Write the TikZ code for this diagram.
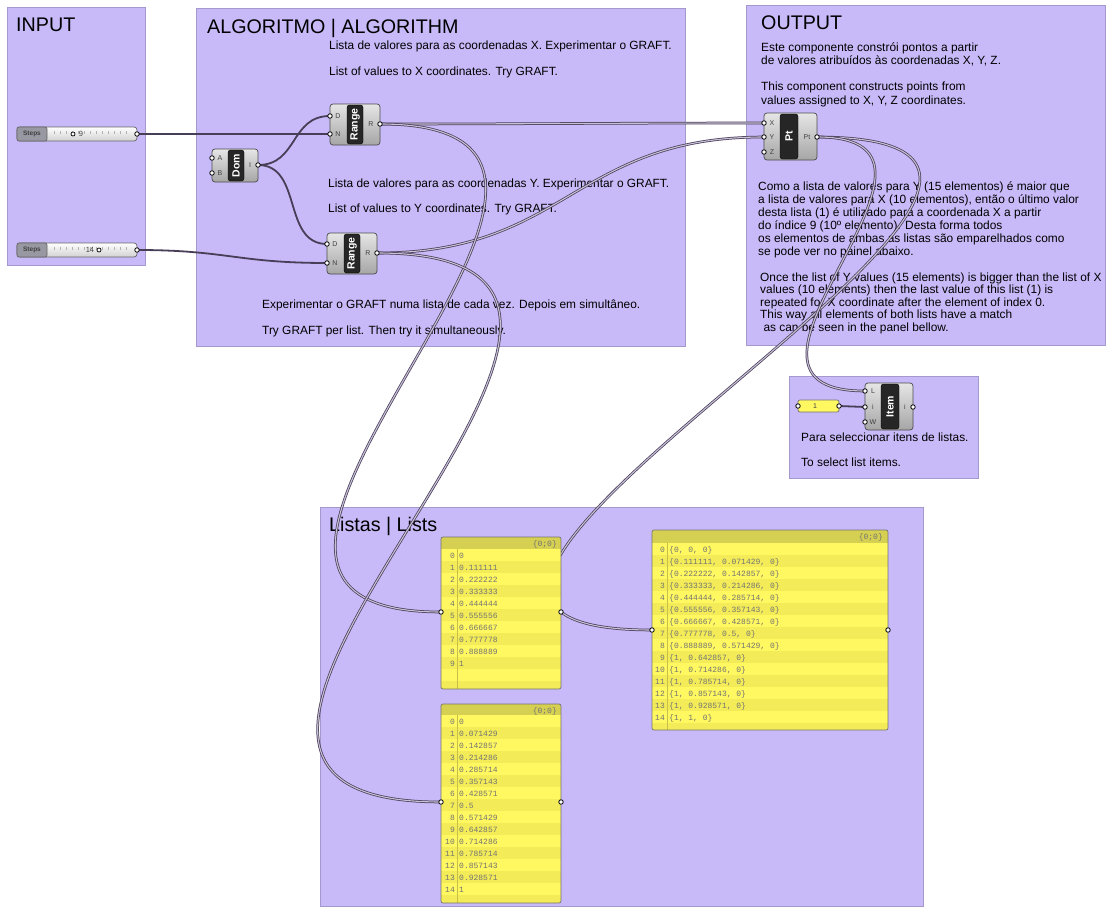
\documentclass[tikz,border=0pt]{standalone}
\usepackage{fontspec}
\setmainfont{Liberation Sans}
\newfontfamily\monof{Liberation Mono}
\definecolor{grpfill}{RGB}{200,186,248}
\definecolor{grpdraw}{RGB}{165,152,205}
\definecolor{wirec}{RGB}{72,62,88}
\definecolor{wirein}{RGB}{200,192,215}
\definecolor{pnlhead}{RGB}{214,208,82}
\definecolor{pnla}{RGB}{255,248,96}
\definecolor{pnlb}{RGB}{243,236,88}
\definecolor{pnlline}{RGB}{200,192,70}
\definecolor{stepsc}{RGB}{152,152,162}
\begin{document}
\begin{tikzpicture}[x=1pt,y=-1pt,
  grp/.style={fill=grpfill, draw=grpdraw, line width=0.8pt},
  comp/.style={draw=black!70, line width=0.7pt, rounded corners=3pt, top color=black!10, bottom color=black!35, inner sep=0},
  strip/.style={fill=black!85, draw=black, rounded corners=2.5pt, inner sep=0, text=white, font=\bfseries\fontsize{10.5}{10.5}\selectfont, rotate=90},
  port/.style={circle, draw=black, fill=white, line width=0.8pt, inner sep=0, minimum size=4.5pt},
  wire/.style={draw=wirec, line width=1.8pt},
  lwire/.style={draw=wirec, line width=0.75pt, double=wirein, double distance=1.1pt},
  txt/.style={anchor=base west, inner sep=0, font=\fontsize{11.9}{12}\selectfont},
  ttl/.style={anchor=base west, inner sep=0, font=\fontsize{19.7}{20}\selectfont},
  plab/.style={inner sep=0, font=\fontsize{7}{7}\selectfont, text=black!75},
  ptxt/.style={inner sep=0, font=\monof\fontsize{8}{8}\selectfont, text=black!55},
  pnlbox/.style={draw=black!55, line width=0.7pt, rounded corners=2pt, inner sep=0},
  sld/.style={draw=black!60, line width=0.7pt, rounded corners=3pt, top color=white, bottom color=black!18, inner sep=0},
  stepsbox/.style={draw=black!60, line width=0.7pt, rounded corners=2pt, fill=stepsc, inner sep=0, font=\bfseries\fontsize{6.5}{6.5}\selectfont, text=black!75}
]
\useasboundingbox (0,0) rectangle (1106,907);
\fill[white] (0,0) rectangle (1106,907);

% ---------- groups
\path[grp] (7,7) rectangle (145,265);
\path[grp] (196,8) rectangle (685,346);
\path[grp] (746,5) rectangle (1105,345);
\path[grp] (789,376) rectangle (978,478);
\path[grp] (320,507) rectangle (923,906);

% ---------- titles
\node[ttl] (tin) at (16,32) {INPUT};
\node[ttl] (talg) at (207,34) {ALGORITMO | ALGORITHM};
\node[ttl] (tout) at (761,30) {OUTPUT};
\node[ttl] (tlis) at (329,531) {Listas | Lists};

% ---------- texts
\node[txt] (a1) at (329,50) {Lista de valores para as coordenadas X. Experimentar o GRAFT.};
\node[txt] (a2) at (329,75) {List of values to X coordinates. Try GRAFT.};
\node[txt] (a3) at (328,187) {Lista de valores para as coordenadas Y. Experimentar o GRAFT.};
\node[txt] (a4) at (328,212) {List of values to Y coordinates. Try GRAFT.};
\node[txt] (a5) at (262,308) {Experimentar o GRAFT numa lista de cada vez. Depois em simult\^aneo.};
\node[txt] (a6) at (262,334) {Try GRAFT per list. Then try it simultaneously.};

\node[txt] (o1) at (761,52) {Este componente constrói pontos a partir};
\node[txt] (o2) at (761,65) {de valores atribuídos às coordenadas X, Y, Z.};
\node[txt] (o3) at (761,91) {This component constructs points from};
\node[txt] (o4) at (761,104) {values assigned to X, Y, Z coordinates.};

\foreach \l [count=\i from 0] in {
  {Como a lista de valores para Y (15 elementos) é maior que},
  {a lista de valores para X (10 elementos), então o último valor},
  {desta lista (1) é utilizado para a coordenada X a partir},
  {do índice 9 (10º elemento). Desta forma todos},
  {os elementos de ambas as listas são emparelhados como},
  {se pode ver no painel abaixo.}}
  \node[txt] (c\i) at (758,190+13*\i) {\l};

\foreach \l [count=\i from 0] in {
  {Once the list of Y values (15 elements) is bigger than the list of X},
  {values (10 elements) then the last value of this list (1) is},
  {repeated for X coordinate after the element of index 0.},
  {This way all elements of both lists have a match},
  {\ as can be seen in the panel bellow.}}
  \node[txt] (e\i) at (760,281+12.5*\i) {\l};

\node[txt] (it1) at (801,441) {Para seleccionar itens de listas.};
\node[txt] (it2) at (801,466) {To select list items.};

% ---------- port coordinates
\coordinate (s1o) at (137,134);
\coordinate (s2o) at (137,250);
\coordinate (domA) at (212,158);
\coordinate (domB) at (212,173);
\coordinate (domI) at (258,165);
\coordinate (rxD) at (330,116);
\coordinate (rxN) at (330,134);
\coordinate (rxR) at (380,124);
\coordinate (ryD) at (327,244);
\coordinate (ryN) at (327,263);
\coordinate (ryR) at (377,253);
\coordinate (ptX) at (764,123);
\coordinate (ptY) at (764,137);
\coordinate (ptZ) at (764,152);
\coordinate (ptO) at (817,137);
\coordinate (itL) at (865,391);
\coordinate (itI) at (865,407);
\coordinate (itW) at (865,422);
\coordinate (itO) at (913,407);
\coordinate (n1i) at (798,406);
\coordinate (n1o) at (839,406);
\coordinate (p1in) at (441,612);
\coordinate (p1out) at (561,612);
\coordinate (p2in) at (441,802);
\coordinate (p2out) at (561,802);
\coordinate (p3in) at (652,630);
\coordinate (p3out) at (888,630);

% ---------- wires
\draw[wire] (s1o) -- (rxN);
\draw[wire] (s2o) .. controls +(90,0) and +(-90,0) .. (ryN);
\draw[wire] (domI) .. controls +(40,0) and +(-40,0) .. (rxD);
\draw[wire] (domI) .. controls +(45,0) and +(-45,0) .. (ryD);
\draw[lwire] (rxR) .. controls +(150,0) and +(-150,0) .. (ptX);
\draw[lwire] (ryR) .. controls +(190,0) and +(-190,0) .. (ptY);
\draw[lwire] (rxR) .. controls +(340,0) and +(-340,0) .. (p1in);
\draw[lwire] (ryR) .. controls +(400,0) and +(-400,0) .. (p2in);
\draw[lwire] (ptO) .. controls +(413,0) and +(-413,0) .. (p3in);
\draw[lwire] (ptO) .. controls +(180,0) and +(-180,0) .. (itL);
\draw[wire] (n1o) -- (itI);

% ---------- sliders
\node[sld, minimum width=120pt, minimum height=14pt] (s1) at (77,134) {};
\foreach \t in {54,60,...,130} \draw[black!30, line width=0.4pt] (\t,131) -- (\t,134);
\node[stepsbox, minimum width=30pt, minimum height=14pt] (s1n) at (32,134) {Steps};
\node[circle, draw=black, fill=white, inner sep=0, minimum size=4pt, line width=0.7pt] (s1g) at (73,134) {};
\node[plab, font=\fontsize{7.5}{7.5}\selectfont] (s1v) at (81,134) {9};

\node[sld, minimum width=120pt, minimum height=14pt] (s2) at (77,250) {};
\foreach \t in {54,60,...,130} \draw[black!30, line width=0.4pt] (\t,247) -- (\t,250);
\node[stepsbox, minimum width=30pt, minimum height=14pt] (s2n) at (32,250) {Steps};
\node[plab, font=\fontsize{7.5}{7.5}\selectfont] (s2v) at (90,250) {14};
\node[circle, draw=black, fill=white, inner sep=0, minimum size=4pt, line width=0.7pt] (s2g) at (99,250) {};

% ---------- components
\node[comp, minimum width=46pt, minimum height=33pt] (dom) at (235,165.5) {};
\node[strip, minimum width=31pt, minimum height=16pt] (doms) at (236,165.5) {Dom};
\node[plab] (domAl) at (220,158) {A};
\node[plab] (domBl) at (220,173) {B};
\node[plab] (domIl) at (250,165) {I};

\node[comp, minimum width=50pt, minimum height=41pt] (rx) at (355,124.5) {};
\node[strip, minimum width=39pt, minimum height=16pt] (rxs) at (355,124.5) {Range};
\node[plab] (rxDl) at (338,116) {D};
\node[plab] (rxNl) at (338,134) {N};
\node[plab] (rxRl) at (371,124) {R};

\node[comp, minimum width=50pt, minimum height=41pt] (ry) at (352,253.5) {};
\node[strip, minimum width=39pt, minimum height=16pt] (rys) at (352,253.5) {Range};
\node[plab] (ryDl) at (335,244) {D};
\node[plab] (ryNl) at (335,263) {N};
\node[plab] (ryRl) at (368,253) {R};

\node[comp, minimum width=53pt, minimum height=47pt] (pt) at (790.5,136.5) {};
\node[strip, minimum width=45pt, minimum height=18pt] (pts) at (789,136.5) {Pt};
\node[plab] (ptXl) at (772,123) {X};
\node[plab] (ptYl) at (772,137) {Y};
\node[plab] (ptZl) at (772,152) {Z};
\node[plab] (ptOl) at (807,137) {Pt};

\node[comp, minimum width=48pt, minimum height=47pt] (it) at (889,406.5) {};
\node[strip, minimum width=45pt, minimum height=18pt] (its) at (890,406.5) {Item};
\node[plab] (itLl) at (873,391) {L};
\node[plab] (itIl) at (873,407) {i};
\node[plab] (itWl) at (873,422) {W};
\node[plab] (itOl) at (905,407) {i};

\node[pnlbox, fill=pnla, minimum width=41pt, minimum height=12pt] (n1) at (818.5,406) {};
\node[plab] (n1v) at (815,406) {1};

% ---------- panel 1
\begin{scope}
\clip[rounded corners=2pt] (441,537) rectangle (561,689);
\fill[pnla] (441,537) rectangle (561,689);
\fill[pnlhead] (441,537) rectangle (561,549);
\foreach \i in {1,3,...,11} \fill[pnlb] (441,549+12*\i) rectangle (561,561+12*\i);
\draw[pnlline, line width=0.6pt] (457,549) -- (457,689);
\end{scope}
\node[pnlbox, minimum width=120pt, minimum height=152pt] (p1) at (501,613) {};
\node[ptxt, anchor=base east] (p1h) at (557,546) {\{0;0\}};
\foreach \v [count=\i from 0] in {0,0.111111,0.222222,0.333333,0.444444,0.555556,0.666667,0.777778,0.888889,1} {
  \node[ptxt, anchor=base east] (p1i\i) at (455,558+12*\i) {\i};
  \node[ptxt, anchor=base west] (p1v\i) at (459,558+12*\i) {\v};
}

% ---------- panel 2
\begin{scope}
\clip[rounded corners=2pt] (441,704) rectangle (561,903);
\fill[pnla] (441,704) rectangle (561,903);
\fill[pnlhead] (441,704) rectangle (561,715);
\foreach \i in {1,3,...,15} \fill[pnlb] (441,715+12*\i) rectangle (561,727+12*\i);
\draw[pnlline, line width=0.6pt] (457,715) -- (457,903);
\end{scope}
\node[pnlbox, minimum width=120pt, minimum height=199pt] (p2) at (501,803.5) {};
\node[ptxt, anchor=base east] (p2h) at (557,713) {\{0;0\}};
\foreach \v [count=\i from 0] in {0,0.071429,0.142857,0.214286,0.285714,0.357143,0.428571,0.5,0.571429,0.642857,0.714286,0.785714,0.857143,0.928571,1} {
  \node[ptxt, anchor=base east] (p2i\i) at (455,724+12*\i) {\i};
  \node[ptxt, anchor=base west] (p2v\i) at (459,724+12*\i) {\v};
}

% ---------- panel 3
\begin{scope}
\clip[rounded corners=2pt] (652,530) rectangle (888,730);
\fill[pnla] (652,530) rectangle (888,730);
\fill[pnlhead] (652,530) rectangle (888,543);
\foreach \i in {1,3,...,15} \fill[pnlb] (652,543+12*\i) rectangle (888,555+12*\i);
\draw[pnlline, line width=0.6pt] (667,543) -- (667,730);
\end{scope}
\node[pnlbox, minimum width=236pt, minimum height=200pt] (p3) at (770,630) {};
\node[ptxt, anchor=base east] (p3h) at (883,539) {\{0;0\}};
\foreach \v [count=\i from 0] in {
  {\{0, 0, 0\}},
  {\{0.111111, 0.071429, 0\}},
  {\{0.222222, 0.142857, 0\}},
  {\{0.333333, 0.214286, 0\}},
  {\{0.444444, 0.285714, 0\}},
  {\{0.555556, 0.357143, 0\}},
  {\{0.666667, 0.428571, 0\}},
  {\{0.777778, 0.5, 0\}},
  {\{0.888889, 0.571429, 0\}},
  {\{1, 0.642857, 0\}},
  {\{1, 0.714286, 0\}},
  {\{1, 0.785714, 0\}},
  {\{1, 0.857143, 0\}},
  {\{1, 0.928571, 0\}},
  {\{1, 1, 0\}}} {
  \node[ptxt, anchor=base east] (p3i\i) at (665,552+12*\i) {\i};
  \node[ptxt, anchor=base west] (p3v\i) at (669,552+12*\i) {\v};
}

% ---------- ports
\foreach \p in {s1o,s2o,domA,domB,domI,rxD,rxN,rxR,ryD,ryN,ryR,ptX,ptY,ptZ,ptO,itL,itI,itW,itO,n1i,n1o,p1in,p1out,p2in,p2out,p3in,p3out}
  \node[port] (\p c) at (\p) {};
\end{tikzpicture}
\end{document}
